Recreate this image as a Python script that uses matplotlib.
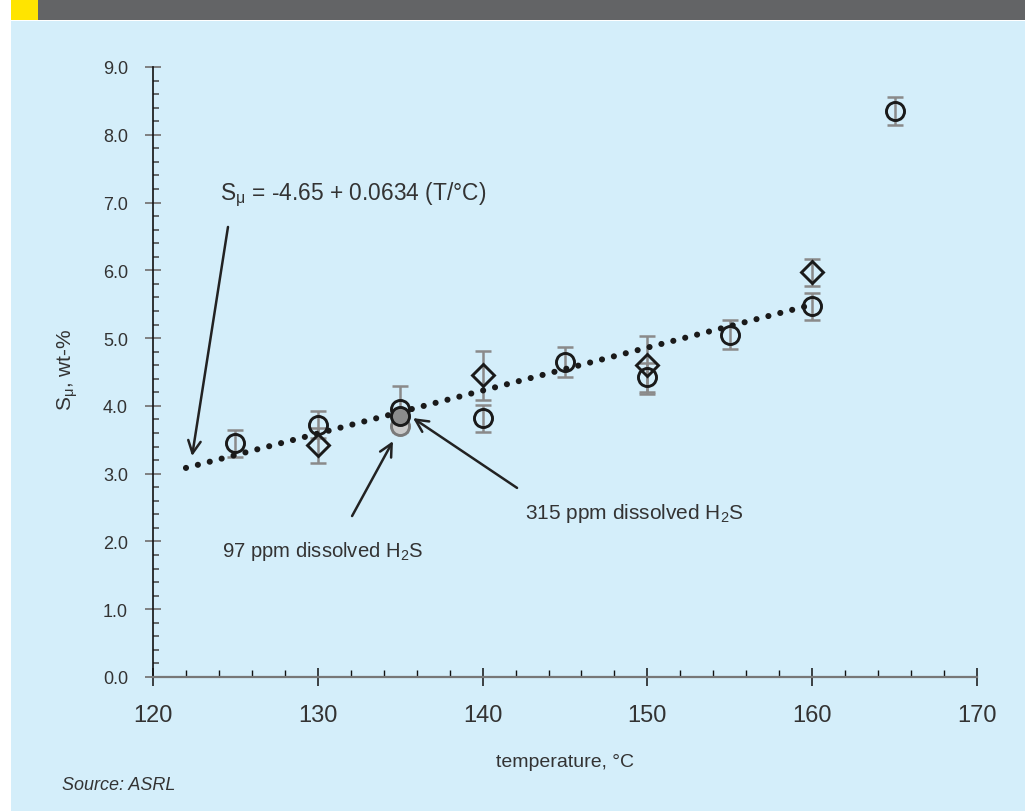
import matplotlib
matplotlib.use("Agg")
import matplotlib.pyplot as plt
from matplotlib.patches import Rectangle
from matplotlib.ticker import MultipleLocator
from matplotlib import font_manager
import numpy as np

names = {f.name for f in font_manager.fontManager.ttflist}
narrow = 'Liberation Sans Narrow' if 'Liberation Sans Narrow' in names else 'Liberation Sans'
plt.rcParams['font.family'] = [narrow, 'DejaVu Sans']
plt.rcParams['mathtext.fontset'] = 'custom'
plt.rcParams['mathtext.rm'] = narrow

# data
circle_t = [125, 130, 135, 140, 145, 150, 155, 160, 165]
circle_s = [3.45, 3.72, 3.95, 3.82, 4.65, 4.42, 5.05, 5.47, 8.35]
circle_err = [0.20, 0.20, 0.34, 0.20, 0.22, 0.22, 0.21, 0.20, 0.21]

diamond_t = [130, 140, 150, 160]
diamond_s = [3.42, 4.45, 4.60, 5.97]
diamond_err = [0.26, 0.36, 0.43, 0.20]

h2s_t = [135, 135]
h2s_s = [3.70, 3.85]
h2s_colors = ['#c9c9c9', '#8c8c8c']

fit_a, fit_b = -4.65, 0.0634
fit_t = [122, 160]

x_ticks = [120, 130, 140, 150, 160, 170]
y_ticks = [0, 1, 2, 3, 4, 5, 6, 7, 8, 9]

text_c = '#333333'
bg = '#d4eefa'

W, H = 1031, 812
fig = plt.figure(figsize=(W / 100, H / 100), dpi=100)
fig.patch.set_facecolor('white')
fig.patches.append(Rectangle((11 / W, 0), 1014 / W, 1 - 22 / H, transform=fig.transFigure,
                             facecolor=bg, edgecolor='none', zorder=-10))
fig.patches.append(Rectangle((11 / W, 1 - 21 / H), 1014 / W, 21 / H, transform=fig.transFigure,
                             facecolor='#636466', edgecolor='none', zorder=-9))
fig.patches.append(Rectangle((11 / W, 1 - 21 / H), 27 / W, 21 / H, transform=fig.transFigure,
                             facecolor='#ffe400', edgecolor='none', zorder=-8))

ax = fig.add_axes([153 / W, 1 - 678 / H, 824 / W, 610 / H])
ax.set_facecolor('none')
ax.set_xlim(120, 170)
ax.set_ylim(0, 9)

# error bars
ax.errorbar(circle_t, circle_s, yerr=circle_err, fmt='none', ecolor='#8a8a8a',
            elinewidth=1.8, capsize=6, capthick=1.8, zorder=2)
ax.errorbar(diamond_t, diamond_s, yerr=diamond_err, fmt='none', ecolor='#8a8a8a',
            elinewidth=1.8, capsize=6, capthick=1.8, zorder=2)

# open markers
ax.plot(circle_t, circle_s, 'o', ms=13, mfc='none', mec='#1a1a1a', mew=2.1, zorder=3)
ax.plot(diamond_t, diamond_s, 'D', ms=11, mfc='none', mec='#1a1a1a', mew=2.1, zorder=3)

# regression line
ft = np.array(fit_t)
ax.plot(ft, fit_a + fit_b * ft, color='#1a1a1a', lw=4.4, linestyle=(0, (0.01, 2.0)),
        dash_capstyle='round', zorder=4)

# H2S points
for t, s, c in zip(h2s_t, h2s_s, h2s_colors):
    ax.plot(t, s, 'o', ms=13, mfc=c, mec='#1a1a1a' if c == '#8c8c8c' else '#7a7a7a',
            mew=2.1, zorder=5)

# annotations
arrow = dict(arrowstyle='->,head_length=0.9,head_width=0.45', color='#222222', lw=1.8,
             shrinkA=0, shrinkB=0)
ax.annotate('', xy=(122.37, 3.26), xytext=(124.55, 6.64), arrowprops=arrow, zorder=6)
ax.annotate('', xy=(134.56, 3.48), xytext=(132.08, 2.375), arrowprops=arrow, zorder=6)
ax.annotate('', xy=(135.78, 3.82), xytext=(142.09, 2.79), arrowprops=arrow, zorder=6)

ax.text(124.07, 7.13, r'S$_\mathregular{μ}$ = -4.65 + 0.0634 (T/°C)', fontsize=16.4,
        color=text_c, ha='left', va='center')
ax.text(124.19, 1.86, r'97 ppm dissolved H$_\mathregular{2}$S', fontsize=14.6,
        color=text_c, ha='left', va='center')
ax.text(142.57, 2.43, r'315 ppm dissolved H$_\mathregular{2}$S', fontsize=15,
        color=text_c, ha='left', va='center')

# axes styling
for side in ['top', 'right']:
    ax.spines[side].set_visible(False)
ax.spines['left'].set_color('#111111')
ax.spines['left'].set_linewidth(1.2)
ax.spines['bottom'].set_color('#777777')
ax.spines['bottom'].set_linewidth(1.6)

ax.set_xticks(x_ticks)
ax.set_xticklabels([str(v) for v in x_ticks])
ax.set_yticks(y_ticks)
ax.set_yticklabels([f'{v:.1f}' for v in y_ticks])
ax.xaxis.set_minor_locator(MultipleLocator(2))
ax.yaxis.set_minor_locator(MultipleLocator(0.2))

ax.tick_params(axis='y', which='major', direction='inout', length=12, width=1.3,
               color='#777777', labelsize=13, labelcolor=text_c, pad=12)
ax.tick_params(axis='y', which='minor', direction='in', length=4.5, width=1.1, color='#444444')
ax.tick_params(axis='x', which='major', direction='inout', length=13, width=1.1,
               color='#111111', labelsize=17, labelcolor=text_c, pad=13)
ax.tick_params(axis='x', which='minor', direction='in', length=5, width=1.0, color='#111111')

ax.set_ylabel(r'S$_\mathregular{μ}$, wt-%', fontsize=15, color=text_c)
ax.yaxis.set_label_coords(-0.088, 0.505)
ax.set_xlabel('temperature, °C', fontsize=14, color=text_c)
ax.xaxis.set_label_coords(0.5, -0.124)

fig.text(62 / W, 1 - 786 / H, 'Source: ASRL', fontsize=13, style='italic', color=text_c,
         ha='left', va='center')

fig.savefig('out.png', dpi=100)
